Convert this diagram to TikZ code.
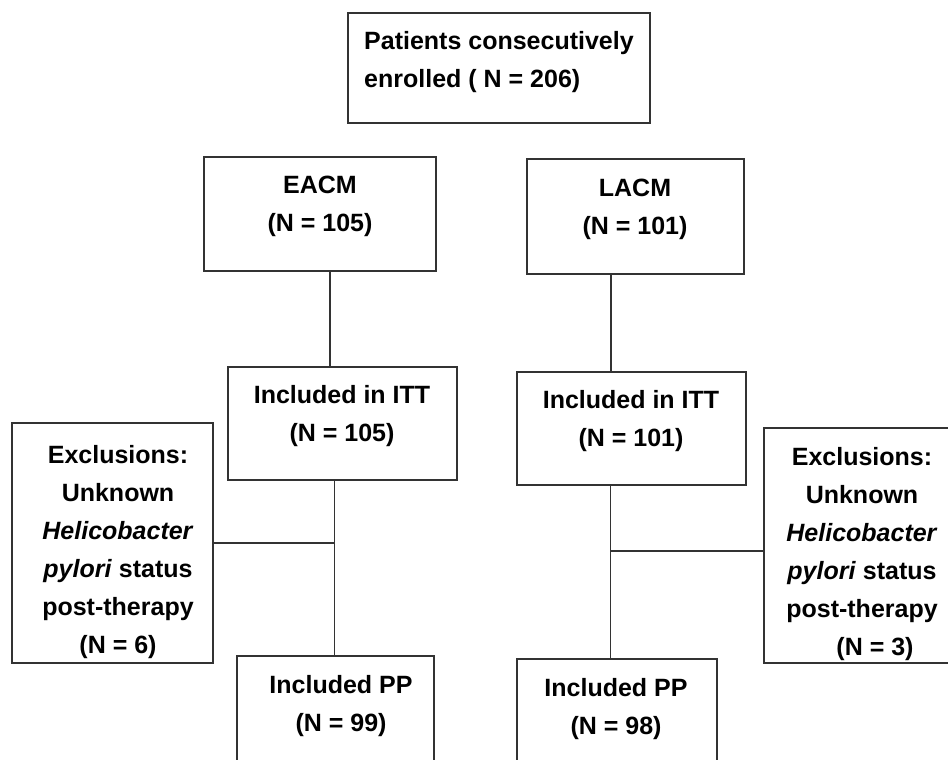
\documentclass[tikz,border=0pt]{standalone}
\usepackage{fontspec}
\setmainfont{Liberation Sans}
\usetikzlibrary{positioning}

\tikzset{
	box/.style = {draw = black!80, line width = 1.2pt, inner sep = 0pt},
	con/.style = {draw = black!80, line width = 1.2pt},
	txt/.style = {align = center, anchor = north, inner sep = 0pt, font = \fontsize{25}{38}\selectfont\bfseries},
}

\begin{document}
\begin{tikzpicture}[x = 1pt, y = -1pt]
	\useasboundingbox (0,0) rectangle (948,760);
	\clip (0,0) rectangle (948,760);
	\fill [white] (0,0) rectangle (948,760);

	% boxes
	\node [box, minimum width = 302pt, minimum height = 110pt] (top) at (499,68) {};
	\node [box, minimum width = 232pt, minimum height = 114pt] (eacm) at (320,214) {};
	\node [box, minimum width = 217pt, minimum height = 115pt] (lacm) at (635.5,216.5) {};
	\node [box, minimum width = 229pt, minimum height = 113pt] (ittL) at (342.5,423.5) {};
	\node [box, minimum width = 229pt, minimum height = 113pt] (ittR) at (631.5,428.5) {};
	\node [box, minimum width = 201pt, minimum height = 240pt] (exclL) at (112.5,543) {};
	\node [box, minimum width = 196pt, minimum height = 235pt] (exclR) at (862,545.5) {};
	\node [box, minimum width = 197pt, minimum height = 114pt] (ppL) at (335.5,713) {};
	\node [box, minimum width = 200pt, minimum height = 112pt] (ppR) at (617,715) {};

	% texts
	\node [txt, anchor = north west, align = left] (topT) at (364,31) {Patients consecutively\\enrolled ( N = 206)};
	\node [txt] (eacmT) at (320,176) {EACM\\(N = 105)};
	\node [txt] (lacmT) at (635,179) {LACM\\(N = 101)};
	\node [txt] (ittLT) at (342,385) {Included in ITT\\(N = 105)};
	\node [txt] (ittRT) at (631,390) {Included in ITT\\(N = 101)};
	\node [txt] (exclLT) at (118,445) {Exclusions:\\Unknown\\\textit{Helicobacter}\\\textit{pylori} status\\post-therapy\\(N = 6)};
	\node [txt] (exclRT) at (862,447) {Exclusions:\\Unknown\\\textit{Helicobacter}\\\textit{pylori} status\\post-therapy\\\hspace*{26pt}(N = 3)};
	\node [txt] (ppLT) at (341,675) {Included PP\\(N = 99)};
	\node [txt] (ppRT) at (616,678) {Included PP\\(N = 98)};

	% connectors
	\coordinate (jL) at (334.5,543);
	\coordinate (jR) at (610.5,551);
	\draw [con] (eacm.south -| 330,0) -- (ittL.north -| 330,0);
	\draw [con] (lacm.south -| 611,0) -- (ittR.north -| 611,0);
	\draw [con] (ittL.south -| jL) -- (ppL.north -| jL);
	\draw [con] (exclL.east |- jL) -- (jL);
	\draw [con] (ittR.south -| jR) -- (ppR.north -| jR);
	\draw [con] (jR) -- (exclR.west |- jR);
\end{tikzpicture}
\end{document}
